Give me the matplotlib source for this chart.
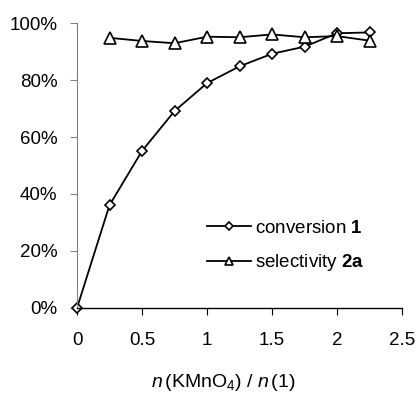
import matplotlib
matplotlib.use("Agg")
import matplotlib.pyplot as plt

plt.rcParams["font.family"] = "Liberation Sans"
plt.rcParams["mathtext.fontset"] = "custom"
plt.rcParams["mathtext.rm"] = "Liberation Sans"
plt.rcParams["mathtext.it"] = "Liberation Sans:italic"
plt.rcParams["mathtext.bf"] = "Liberation Sans:bold"

ratio = [0, 0.25, 0.5, 0.75, 1.0, 1.25, 1.5, 1.75, 2.0, 2.25]
conversion = [0.0, 36.1, 55.1, 69.1, 78.9, 84.8, 89.2, 91.7, 96.4, 96.7]

ratio_sel = [0.25, 0.5, 0.75, 1.0, 1.25, 1.5, 1.75, 2.0, 2.25]
selectivity = [94.8, 93.7, 92.9, 95.2, 95.0, 96.0, 95.0, 95.4, 93.8]

fig = plt.figure(figsize=(4.17, 3.94), dpi=100)
ax = fig.add_axes([0.1847, 0.2183, 0.7794, 0.7233])

ax.plot(ratio, conversion, color="black", lw=1.3, marker="D", ms=5.5,
        mfc="white", mec="black", mew=1.2, clip_on=False,
        label=r"conversion $\mathbf{1}$")
ax.plot(ratio_sel, selectivity, color="black", lw=1.3, marker="^", ms=8,
        mfc="white", mec="black", mew=1.2, clip_on=False,
        label=r"selectivity $\mathbf{2a}$")

ax.set_xlim(0, 2.5)
ax.set_ylim(0, 100)
ax.set_xticks([0, 0.5, 1, 1.5, 2, 2.5])
ax.set_xticklabels(["0", "0.5", "1", "1.5", "2", "2.5"])
ax.set_yticks(range(0, 101, 20))
ax.set_yticklabels([f"{v}%" for v in range(0, 101, 20)])
ax.tick_params(labelsize=13.5, length=5, width=0.8)
ax.tick_params(axis="y", color="gray", pad=9)
ax.tick_params(axis="x", pad=12)

for s in ["top", "right"]:
    ax.spines[s].set_visible(False)
ax.spines["left"].set_color("gray")
ax.spines["left"].set_linewidth(0.8)
ax.spines["bottom"].set_linewidth(1.0)
ax.patch.set_alpha(0)

ax.set_xlabel(r"$n\,$(KMnO$_4$) / $n\,$(1)", fontsize=14)
ax.xaxis.set_label_coords(0.45, -0.226)

leg = ax.legend(loc="upper left", bbox_to_anchor=(0.475, 0.467),
                bbox_transform=fig.transFigure, frameon=False, fontsize=13.5,
                handlelength=2.3, labelspacing=0.85, handletextpad=0.25,
                numpoints=1, borderpad=0)
for h in leg.legend_handles:
    h.set_markersize(h.get_markersize() * 0.7)

fig.savefig("out.png", dpi=100)
